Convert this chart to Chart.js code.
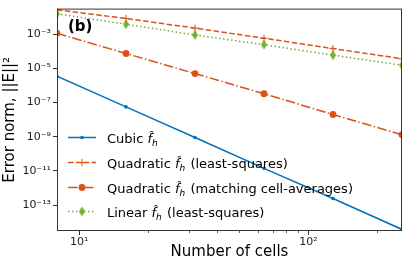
<!DOCTYPE html>
<html>
<head>
<meta charset="utf-8">
<script src="https://cdn.jsdelivr.net/npm/chart.js@4"></script>
<style>
  html, body { margin: 0; padding: 0; background: #fff; }
  #errorChart { display: block; }
</style>
</head>
<body>
<canvas id="errorChart" width="407" height="263"></canvas>
<script>
// Datos del gráfico
const cells = [8, 16, 32, 64, 128, 256];
const cubic = [3.5e-6, 5.6e-8, 9e-10, 1.4e-11, 2.4e-13, 3.7e-15];
const quadLS = [2.7e-2, 8.5e-3, 2.3e-3, 5.9e-4, 1.45e-4, 3.7e-5];
const quadMatch = [1.14e-3, 7.5e-5, 5e-6, 3.3e-7, 2e-8, 1.3e-9];
const linear = [1.58e-2, 3.9e-3, 9.1e-4, 2.45e-4, 6e-5, 1.55e-5];

const xTicks = [10, 20, 30, 40, 50, 60, 70, 80, 90, 100, 200];
const yTicks = [1e-13, 1e-11, 1e-9, 1e-7, 1e-5, 1e-3];

const BLUE = '#0072BD';
const ORANGE = '#D95319';
const GREEN = '#77AC30';
const FONT = "'DejaVu Sans', sans-serif";

const SUP = { '-': '\u207B', '0': '\u2070', '1': '\u00B9', '2': '\u00B2', '3': '\u00B3',
  '4': '\u2074', '5': '\u2075', '6': '\u2076', '7': '\u2077', '8': '\u2078', '9': '\u2079' };
function powLabel(v) {
    const e = String(Math.round(Math.log10(v)));
    return '10' + e.split('').map(c => SUP[c]).join('');
}

// diamante estrecho (marcador 'd' de matplotlib)
function makeDiamond() {
    const c = document.createElement('canvas');
    c.width = 7; c.height = 11;
    const g = c.getContext('2d');
    g.fillStyle = GREEN;
    g.beginPath();
    g.moveTo(3.5, 0.5); g.lineTo(6.5, 5.5); g.lineTo(3.5, 10.5); g.lineTo(0.5, 5.5);
    g.closePath(); g.fill();
    return c;
}
const diamond = makeDiamond();

const pts = arr => cells.map((c, i) => ({ x: c, y: arr[i] }));

const series = [
    { label: 'Cubic', data: pts(cubic), borderColor: BLUE, backgroundColor: BLUE,
      borderDash: [], pointStyle: 'circle', pointRadius: 1.8, pointBorderWidth: 0 },
    { label: 'Quadratic', suffix: ' (least-squares)', data: pts(quadLS), borderColor: ORANGE, backgroundColor: ORANGE,
      borderDash: [5.5, 2.4], pointStyle: 'cross', pointRadius: 3.6, pointBorderWidth: 1 },
    { label: 'Quadratic', suffix: ' (matching cell-averages)', data: pts(quadMatch), borderColor: ORANGE, backgroundColor: ORANGE,
      borderDash: [9.6, 2.4, 1.5, 2.4], pointStyle: 'circle', pointRadius: 3.4, pointBorderWidth: 0 },
    { label: 'Linear', suffix: ' (least-squares)', data: pts(linear), borderColor: GREEN, backgroundColor: GREEN,
      borderDash: [1.5, 2.5], pointStyle: diamond, pointRadius: 4, pointBorderWidth: 0 }
];

// Marco, ticks menores, título y leyenda
const decorPlugin = {
    id: 'decor',
    afterDatasetsDraw(chart) {
        const ctx = chart.ctx;
        const a = chart.chartArea;
        const xs = chart.scales.x;
        ctx.save();
        // ticks menores del eje x
        ctx.strokeStyle = '#333';
        ctx.lineWidth = 0.8;
        xTicks.forEach(v => {
            if (v === 10 || v === 100) return;
            const px = Math.round(xs.getPixelForValue(v)) + 0.5;
            ctx.beginPath(); ctx.moveTo(px, a.bottom); ctx.lineTo(px, a.bottom + 2); ctx.stroke();
        });
        // marco
        ctx.strokeStyle = '#333';
        ctx.lineWidth = 1;
        ctx.strokeRect(a.left + 0.5, a.top + 0.5, a.right - a.left - 1, a.bottom - a.top - 1);

        // (b)
        ctx.fillStyle = '#000';
        ctx.font = 'bold 15px ' + FONT;
        ctx.textBaseline = 'alphabetic';
        ctx.textAlign = 'left';
        ctx.fillText('(b)', 68, 31);

        // leyenda
        const rows = [137.5, 162.5, 187.5, 211.5];
        series.forEach((s, i) => {
            const y = rows[i];
            ctx.save();
            ctx.strokeStyle = s.borderColor;
            ctx.lineWidth = 1.5;
            ctx.setLineDash(s.borderDash);
            ctx.beginPath(); ctx.moveTo(68, y); ctx.lineTo(96, y); ctx.stroke();
            ctx.setLineDash([]);
            const mx = 82;
            if (s.pointStyle === 'cross') {
                ctx.lineWidth = 1;
                ctx.beginPath();
                ctx.moveTo(mx - 3.6, y); ctx.lineTo(mx + 3.6, y);
                ctx.moveTo(mx, y - 3.6); ctx.lineTo(mx, y + 3.6);
                ctx.stroke();
            } else if (s.pointStyle === 'circle') {
                ctx.fillStyle = s.backgroundColor;
                ctx.beginPath(); ctx.arc(mx, y, s.pointRadius, 0, Math.PI * 2); ctx.fill();
            } else {
                ctx.drawImage(diamond, mx - 3.5, y - 5.5);
            }
            ctx.restore();

            // texto
            let tx = 107;
            const base = y + 5;
            ctx.fillStyle = '#000';
            ctx.font = '13px ' + FONT;
            ctx.fillText(s.label + ' ', tx, base);
            tx += ctx.measureText(s.label + ' ').width;
            ctx.font = 'italic 13px ' + FONT;
            ctx.fillText('f\u0302', tx, base);
            tx += ctx.measureText('f').width;
            ctx.font = 'italic 9px ' + FONT;
            ctx.fillText('h', tx, base + 3);
            tx += ctx.measureText('h').width + 1;
            if (s.suffix) {
                ctx.font = '13px ' + FONT;
                ctx.fillText(s.suffix, tx, base);
            }
        });
        ctx.restore();
    }
};

function renderChart() {
    const ctx = document.getElementById('errorChart').getContext('2d');
    new Chart(ctx, {
        type: 'line',
        data: {
            datasets: series.map(s => ({
                label: s.label,
                data: s.data,
                borderColor: s.borderColor,
                backgroundColor: s.backgroundColor,
                borderWidth: 1.5,
                borderDash: s.borderDash,
                pointStyle: s.pointStyle,
                pointRadius: s.pointRadius,
                pointBorderWidth: s.pointBorderWidth,
                pointBorderColor: s.borderColor,
                pointBackgroundColor: s.backgroundColor,
                tension: 0,
                fill: false
            }))
        },
        options: {
            responsive: false,
            animation: false,
            layout: { padding: { top: 4, right: 3, left: 0, bottom: 0 } },
            plugins: { legend: { display: false }, tooltip: { enabled: false } },
            scales: {
                x: {
                    type: 'logarithmic',
                    min: 8, max: 256,
                    afterBuildTicks: scale => { scale.ticks = xTicks.map(v => ({ value: v })); },
                    afterFit: scale => { scale.height = 32; },
                    ticks: {
                        autoSkip: false, maxRotation: 0, padding: 1,
                        color: '#222', font: { family: FONT, size: 11 },
                        callback: v => (v === 10 || v === 100) ? powLabel(v) : ''
                    },
                    grid: {
                        drawOnChartArea: false, tickLength: 4,
                        tickColor: c => (c.tick && (c.tick.value === 10 || c.tick.value === 100)) ? '#333' : 'rgba(0,0,0,0)'
                    },
                    border: { display: false },
                    title: {
                        display: true, text: 'Number of cells', color: '#000',
                        font: { family: FONT, size: 15 }, padding: { top: 0, bottom: 2 }
                    }
                },
                y: {
                    type: 'logarithmic',
                    min: 3.2e-15, max: 3.2e-2,
                    afterBuildTicks: scale => { scale.ticks = yTicks.map(v => ({ value: v })); },
                    afterFit: scale => { scale.width = 57; },
                    ticks: {
                        autoSkip: false, padding: 2,
                        color: '#222', font: { family: FONT, size: 11 },
                        callback: v => powLabel(v)
                    },
                    grid: { drawOnChartArea: false, tickLength: 4, tickColor: '#333' },
                    border: { display: false },
                    title: {
                        display: true, text: 'Error norm, ||E||\u00B2', color: '#000',
                        font: { family: FONT, size: 15 }, padding: { top: 1, bottom: 0 }
                    }
                }
            }
        },
        plugins: [decorPlugin]
    });
}

document.addEventListener('DOMContentLoaded', () => {
    renderChart();
});
</script>
</body>
</html>
